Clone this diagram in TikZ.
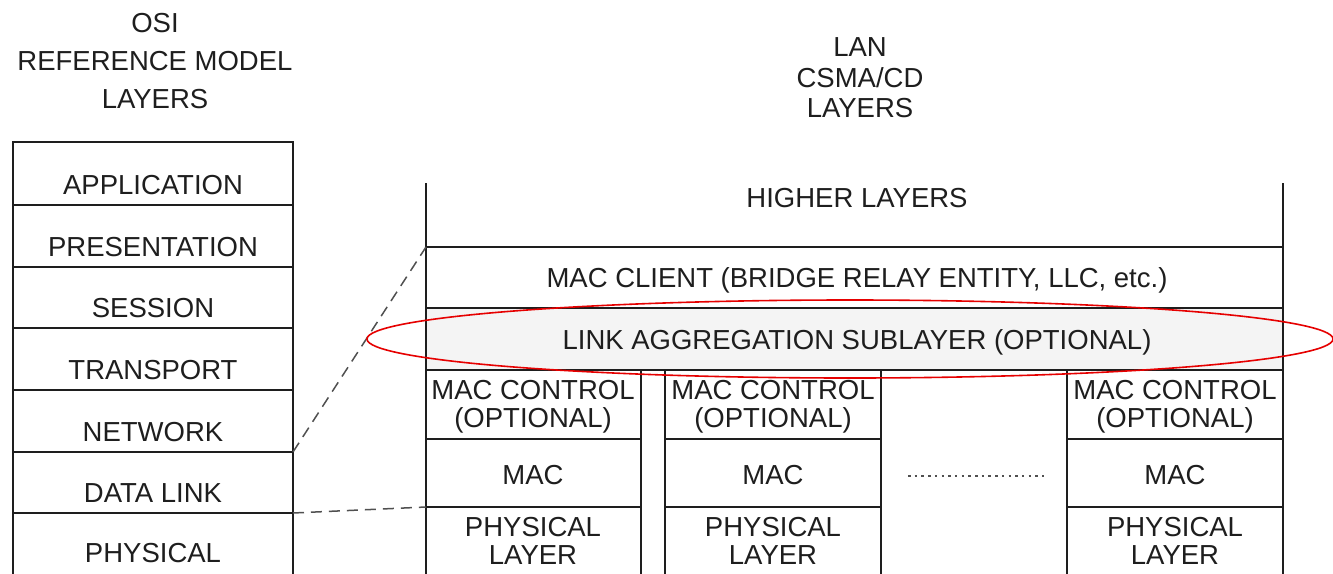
\documentclass[tikz,border=0pt]{standalone}
\usepackage{fontspec}
\setmainfont{Liberation Sans}
\usetikzlibrary{calc}
\definecolor{linec}{HTML}{1E1E1E}
\definecolor{bandfill}{HTML}{F4F4F4}
\definecolor{ovalred}{HTML}{E60000}
\definecolor{dashc}{HTML}{505050}
\begin{document}
\begin{tikzpicture}[x=1pt,y=-1pt,
  cell/.style={draw=linec, line width=1.5pt, rectangle, inner sep=0pt, outer sep=0pt, anchor=north west},
  ln/.style={draw=linec, line width=1.5pt},
  txt/.style={font=\fontsize{27.5}{30}\selectfont, anchor=base, inner sep=0pt, text=linec},
  link/.style={draw=dashc, line width=1.5pt, dash pattern=on 11pt off 7pt},
  dots/.style={draw=dashc, line width=2pt, dash pattern=on 2.5pt off 4.2pt}
]
\clip (0,0) rectangle (1333,573);
\fill[white] (0,0) rectangle (1333,573);

% ---------- titles ----------
\node[txt] (t1) at (155,32) {OSI};
\node[txt] (t2) at (155,70) {REFERENCE MODEL};
\node[txt] (t3) at (155,108) {LAYERS};
\node[txt] (r1) at (860,56) {LAN};
\node[txt] (r2) at (860,87) {CSMA/CD};
\node[txt] (r3) at (860,117) {LAYERS};

% ---------- OSI stack ----------
\node[cell, minimum width=280pt, minimum height=63pt] (app) at (13,142) {};
\node[cell, minimum width=280pt, minimum height=62pt] (pres) at (13,205) {};
\node[cell, minimum width=280pt, minimum height=61pt] (sess) at (13,267) {};
\node[cell, minimum width=280pt, minimum height=62pt] (trans) at (13,328) {};
\node[cell, minimum width=280pt, minimum height=62pt] (net) at (13,390) {};
\node[cell, minimum width=280pt, minimum height=61pt] (dl) at (13,452) {};
\node[cell, minimum width=280pt, minimum height=110pt] (phys) at (13,513) {};

\node[txt] (lapp) at (153,194) {APPLICATION};
\node[txt] (lpres) at (153,256) {PRESENTATION};
\node[txt] (lsess) at (153,317) {SESSION};
\node[txt] (ltrans) at (153,379) {TRANSPORT};
\node[txt] (lnet) at (153,441) {NETWORK};
\node[txt] (ldl) at (153,502) {DATA LINK};
\node[txt] (lphys) at (153,562) {PHYSICAL};

% ---------- LAN stack ----------
\coordinate (hlL) at (426,183);
\coordinate (hlR) at (1283,183);
\node[cell, minimum width=857pt, minimum height=61pt] (client) at (426,247) {};
\node[cell, fill=bandfill, minimum width=857pt, minimum height=62pt] (lag) at (426,308) {};
\draw[ln] (hlL) -- (client.north west);
\draw[ln] (hlR) -- (client.north east);

% column 1
\node[cell, minimum width=215pt, minimum height=69pt] (mc1) at (426,370) {};
\node[cell, minimum width=215pt, minimum height=68pt] (mac1) at (426,439) {};
\node[cell, minimum width=215pt, minimum height=110pt] (phy1) at (426,507) {};
% column 2
\node[cell, minimum width=216pt, minimum height=69pt] (mc2) at (665,370) {};
\node[cell, minimum width=216pt, minimum height=68pt] (mac2) at (665,439) {};
\node[cell, minimum width=216pt, minimum height=110pt] (phy2) at (665,507) {};
% column n
\node[cell, minimum width=216pt, minimum height=69pt] (mc3) at (1067,370) {};
\node[cell, minimum width=216pt, minimum height=68pt] (mac3) at (1067,439) {};
\node[cell, minimum width=216pt, minimum height=110pt] (phy3) at (1067,507) {};

\node[txt] (lhl) at (857,207) {HIGHER LAYERS};
\node[txt] (lclient) at (857,287) {MAC CLIENT (BRIDGE RELAY ENTITY, LLC, etc.)};
\node[txt] (llag) at (857,349) {LINK AGGREGATION SUBLAYER (OPTIONAL)};

\foreach \c/\x in {1/533,2/773,3/1175}{
  \node[txt] (mca\c) at (\x,399) {MAC CONTROL};
  \node[txt] (mcb\c) at (\x,427) {(OPTIONAL)};
  \node[txt] (mac\c t) at (\x,484) {MAC};
  \node[txt] (phya\c) at (\x,536) {PHYSICAL};
  \node[txt] (phyb\c) at (\x,564) {LAYER};
}

% dotted ellipsis between columns
\coordinate (dotL) at (908,476);
\coordinate (dotR) at (1044,476);
\draw[dots] (dotL) -- (dotR);

% ---------- dashed mapping lines ----------
\draw[link] (net.south east) -- (client.north west);
\draw[link] (dl.south east) -- (phy1.north west);

% ---------- highlight oval ----------
\draw[ovalred, line width=1.6pt] (850,339) ellipse [x radius=483pt, y radius=39pt];
\end{tikzpicture}
\end{document}
